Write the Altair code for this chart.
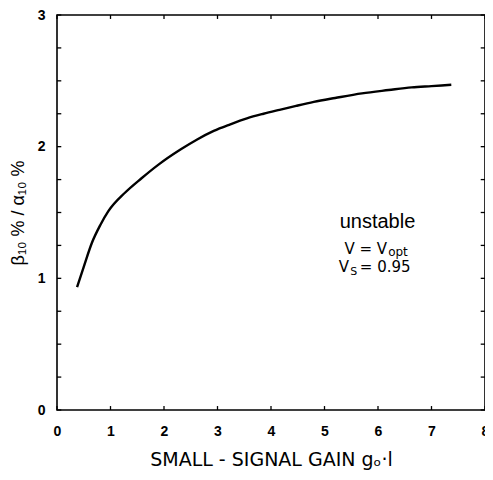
import altair as alt
import pandas as pd

# curve data
gain = [0.375, 0.50, 0.653, 0.81, 0.96, 1.27, 1.58, 1.885, 2.315, 2.62, 2.93,
        3.24, 3.55, 3.86, 4.16, 4.47, 4.80, 5.20, 5.70, 6.20, 6.63, 7.00, 7.37]
ratio = [0.933, 1.087, 1.27, 1.405, 1.51, 1.65, 1.76, 1.86, 1.98, 2.055, 2.12,
         2.17, 2.215, 2.25, 2.28, 2.31, 2.34, 2.37, 2.405, 2.43, 2.45, 2.46, 2.47]

x_ticks = [0, 1, 2, 3, 4, 5, 6, 7, 8]
y_ticks = [0, 0.25, 0.5, 0.75, 1, 1.25, 1.5, 1.75, 2, 2.25, 2.5, 2.75, 3]

FONT = "Liberation Sans"
FONT2 = "DejaVu Sans"

curve_df = pd.DataFrame({"g": gain, "r": ratio})

xs = alt.Scale(domain=[0, 8], nice=False, zero=False)
ys = alt.Scale(domain=[0, 3], nice=False, zero=False)

base = alt.Chart(curve_df).mark_line(
    color="black", strokeWidth=2.4, interpolate="monotone"
).encode(
    x=alt.X("g:Q", scale=xs, axis=alt.Axis(
        values=x_ticks, title="SMALL - SIGNAL GAIN  gₒ·l", format="d",
        tickSize=0, domain=False, grid=False, labelPadding=14,
        labelFont=FONT, labelFontSize=14, labelFontWeight="bold", labelColor="black",
        titleFont=FONT2, titleFontSize=19, titleFontWeight="normal", titleColor="black",
        titlePadding=12, labelFlush=False)),
    y=alt.Y("r:Q", scale=ys, axis=alt.Axis(
        values=[0, 1, 2, 3], title="β₁₀ % / α₁₀ %", format="d",
        tickSize=0, domain=False, grid=False, labelPadding=12,
        labelFont=FONT, labelFontSize=14, labelFontWeight="bold", labelColor="black",
        titleFont=FONT, titleFontSize=18, titleFontWeight="normal", titleColor="black",
        titlePadding=10, labelFlush=False)),
)

# inward ticks on all four sides
left_df = pd.DataFrame({"y": y_ticks, "x0": [0] * len(y_ticks), "x1": [0.08] * len(y_ticks)})
right_df = pd.DataFrame({"y": y_ticks, "x0": [7.92] * len(y_ticks), "x1": [8] * len(y_ticks)})
bot_df = pd.DataFrame({"x": x_ticks, "y0": [0] * len(x_ticks), "y1": [0.03] * len(x_ticks)})
top_df = pd.DataFrame({"x": x_ticks, "y0": [2.97] * len(x_ticks), "y1": [3] * len(x_ticks)})

def hticks(df):
    return alt.Chart(df).mark_rule(color="black", strokeWidth=1.3).encode(
        x=alt.X("x0:Q", scale=xs), x2="x1:Q", y=alt.Y("y:Q", scale=ys))

def vticks(df):
    return alt.Chart(df).mark_rule(color="black", strokeWidth=1.3).encode(
        x=alt.X("x:Q", scale=xs), y=alt.Y("y0:Q", scale=ys), y2="y1:Q")

# annotations (anchored in data coordinates)
ann_unstable = pd.DataFrame({"x": [5.99], "y": [1.379], "t": ["unstable"]})
ann_right_df = pd.DataFrame({"x": [6.17, 5.46], "y": [1.182, 1.045], "t": ["V = V", "V"]})
ann_left_df = pd.DataFrame({"x": [5.66], "y": [1.045], "t": ["= 0.95"]})
ann_sub_opt = pd.DataFrame({"x": [6.19], "y": [1.182], "t": ["opt"]})
ann_sub_s = pd.DataFrame({"x": [5.48], "y": [1.045], "t": ["S"]})

enc = dict(x=alt.X("x:Q", scale=xs), y=alt.Y("y:Q", scale=ys), text="t:N")

ann_center = alt.Chart(ann_unstable).mark_text(
    font=FONT, fontSize=20, align="center", baseline="alphabetic", color="black"
).encode(**enc)
ann_right = alt.Chart(ann_right_df).mark_text(
    font=FONT2, fontSize=15, align="right", baseline="alphabetic", color="black"
).encode(**enc)
ann_left = alt.Chart(ann_left_df).mark_text(
    font=FONT2, fontSize=15, align="left", baseline="alphabetic", color="black"
).encode(**enc)
ann_opt = alt.Chart(ann_sub_opt).mark_text(
    font=FONT2, fontSize=12, align="left", baseline="alphabetic", dy=2, color="black"
).encode(**enc)
ann_s = alt.Chart(ann_sub_s).mark_text(
    font=FONT2, fontSize=11, align="left", baseline="alphabetic", dy=3, color="black"
).encode(**enc)

chart = alt.layer(
    base, hticks(left_df), hticks(right_df), vticks(bot_df), vticks(top_df),
    ann_center, ann_right, ann_left, ann_opt, ann_s
).properties(
    width=428, height=395,
    autosize=alt.AutoSizeParams(type="none"),
    padding={"left": 49, "top": 7, "right": 0, "bottom": 62},
    background="white",
).configure_view(stroke="black", strokeWidth=1.6)

chart.save("out.html", embed_options={"renderer": "svg", "actions": False})
